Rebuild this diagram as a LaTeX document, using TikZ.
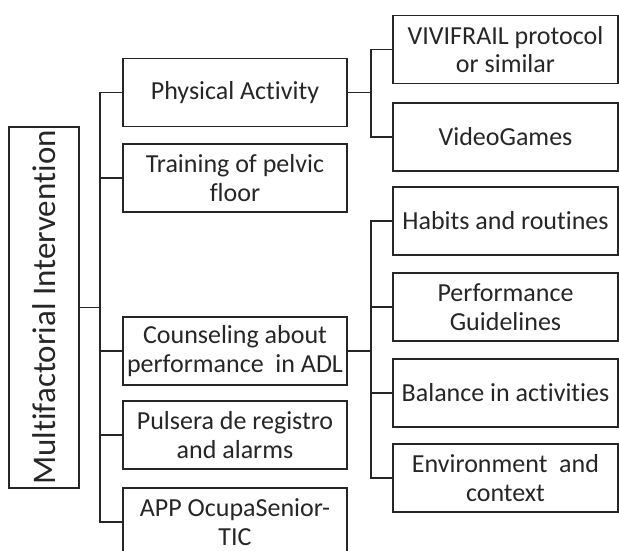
\documentclass[tikz,border=0pt]{standalone}
\usepackage{fontspec}
\setmainfont[Ligatures=NoCommon]{Carlito}
\begin{document}
\begin{tikzpicture}[x=1pt,y=-1pt,
  box/.style={draw=black!85, line width=1.6pt, align=center, text=black!85, font=\fontsize{26}{28.5}\selectfont, inner sep=0pt},
  mid/.style={box, minimum width=224pt, minimum height=68pt},
  leaf/.style={box, minimum width=225pt, minimum height=68pt},
  link/.style={draw=black!85, line width=1.6pt}]
\useasboundingbox (0,0) rectangle (619,551);
\clip (0,0) rectangle (619,551);
% root
\node[box, rotate=90, minimum width=361pt, minimum height=70pt, font=\fontsize{33}{36}\selectfont] (root) at (44,307.5) {Multifactorial Intervention};
% middle column
\node[mid] (pa)  at (235,92.5) {Physical Activity};
\node[mid] (tr)  at (235,178) {Training of pelvic\\floor};
\node[mid] (co)  at (235,351) {Counseling about\\performance\ \ in ADL};
\node[mid] (pu)  at (235,435) {Pulsera de registro\\and alarms};
\node[mid] (app) at (235,522) {APP OcupaSenior-\\TIC};
% right column
\node[leaf] (viv)  at (505.5,49.5) {VIVIFRAIL protocol\\or similar};
\node[leaf] (vid)  at (505.5,137) {VideoGames};
\node[leaf] (hab)  at (505.5,221) {Habits and routines};
\node[leaf] (perf) at (505.5,307) {Performance\\Guidelines};
\node[leaf] (bal)  at (505.5,393) {Balance in activities};
\node[leaf] (env)  at (505.5,478) {Environment\ \ and\\context};
% trunks
\coordinate (t) at (100,0);
\coordinate (s) at (371,0);
\foreach \c in {pa,tr,co,pu,app}
  \draw[link] (root.south) -- (root.south -| t) |- (\c.west);
\foreach \c in {viv,vid}
  \draw[link] (pa.east) -- (pa.east -| s) |- (\c.west);
\foreach \c in {hab,perf,bal,env}
  \draw[link] (co.east) -- (co.east -| s) |- (\c.west);
\end{tikzpicture}
\end{document}
